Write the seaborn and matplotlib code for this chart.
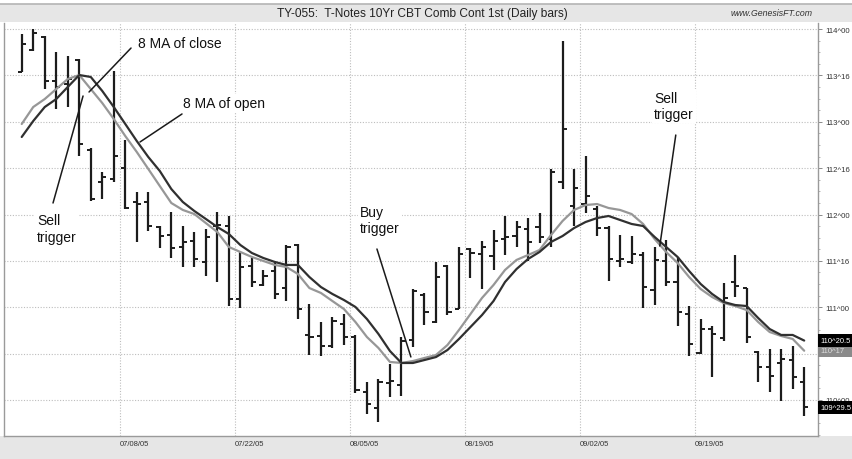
import numpy as np
import pandas as pd
import matplotlib
matplotlib.use("Agg")
import matplotlib.pyplot as plt
from matplotlib.patches import Rectangle
import seaborn as sns

# ---- data: TY daily bars, 8-bar moving averages of open and close ----
holidays = [pd.Timestamp("2005-07-04"), pd.Timestamp("2005-09-05")]
dates = [d for d in pd.bdate_range("2005-06-24", "2005-09-30") if d not in holidays]

opens = [113.536, 113.774, 113.914, 113.439, 113.407, 113.666, 112.695, 112.350, 112.383, 112.501,
         112.135, 112.135, 111.865, 111.779, 111.650, 111.714, 111.488, 111.876, 111.876, 111.089,
         111.445, 111.240, 111.391, 111.207, 111.671, 110.701, 110.690, 110.582, 110.819, 110.679,
         110.086, 109.913, 110.183, 110.162, 110.647, 111.132, 110.841, 111.445, 110.981, 111.628,
         111.574, 111.553, 111.736, 111.768, 111.844, 111.865, 111.736, 112.350, 112.092, 112.113,
         112.059, 111.854, 111.499, 111.488, 111.563, 111.186, 111.499, 111.272, 110.927, 110.507,
         110.765, 110.668, 111.272, 111.207, 110.517, 110.356, 110.399, 110.431, 110.194]
highs = [113.946, 114.000, 113.925, 113.752, 113.709, 113.677, 112.717, 112.458, 113.547, 112.803,
         112.243, 112.243, 111.876, 112.027, 111.876, 111.811, 111.844, 112.027, 111.984, 111.596,
         111.531, 111.402, 111.499, 111.671, 111.682, 111.035, 110.841, 110.895, 110.927, 110.701,
         110.194, 110.226, 110.388, 110.679, 111.197, 111.154, 111.488, 111.456, 111.650, 111.639,
         111.714, 111.833, 111.984, 111.930, 111.962, 112.016, 112.491, 113.871, 112.491, 112.631,
         112.092, 111.876, 111.779, 111.768, 111.596, 111.650, 111.725, 111.542, 111.013, 110.873,
         110.798, 111.261, 111.563, 111.207, 110.528, 110.550, 110.550, 110.582, 110.356]
lows = [113.536, 113.763, 113.353, 113.137, 113.159, 112.631, 112.145, 112.167, 112.350, 112.059,
        111.704, 111.822, 111.639, 111.531, 111.434, 111.434, 111.337, 111.272, 111.013, 110.992,
        111.218, 111.229, 111.089, 111.067, 110.873, 110.485, 110.474, 110.561, 110.593, 110.075,
        109.849, 109.763, 110.032, 110.043, 110.571, 110.809, 110.830, 110.916, 110.981, 111.315,
        111.197, 111.402, 111.563, 111.650, 111.499, 111.693, 111.650, 112.275, 111.876, 112.016,
        111.768, 111.283, 111.434, 111.466, 110.992, 111.024, 111.229, 110.798, 110.474, 110.496,
        110.248, 110.636, 111.110, 110.615, 110.194, 110.086, 109.989, 110.119, 109.827]
closes = [113.838, 113.957, 113.439, 113.375, 113.461, 112.760, 112.167, 112.404, 112.631, 112.070,
          112.113, 111.876, 111.768, 111.639, 111.704, 111.520, 111.758, 111.887, 111.089, 111.434,
          111.272, 111.337, 111.143, 111.650, 110.981, 110.679, 110.582, 110.852, 110.679, 110.108,
          109.957, 110.194, 110.205, 110.636, 111.175, 110.949, 111.326, 110.949, 111.574, 111.585,
          111.650, 111.714, 111.758, 111.865, 111.704, 111.758, 112.458, 112.922, 112.286, 112.199,
          111.854, 111.520, 111.520, 111.574, 111.218, 111.510, 111.272, 110.949, 110.604, 110.765,
          110.712, 111.100, 111.229, 110.679, 110.356, 110.259, 110.442, 110.248, 109.921875]
ma_open = [112.836, 113.008, 113.159, 113.245, 113.375, 113.504, 113.483, 113.332, 113.159, 112.976,
           112.792, 112.620, 112.469, 112.275, 112.135, 112.038, 111.952, 111.865, 111.790, 111.671,
           111.585, 111.531, 111.488, 111.456, 111.456, 111.326, 111.218, 111.143, 111.078, 111.003,
           110.873, 110.712, 110.528, 110.399, 110.399, 110.431, 110.463, 110.539, 110.658, 110.787,
           110.916, 111.067, 111.272, 111.412, 111.520, 111.596, 111.704, 111.768, 111.854, 111.919,
           111.962, 111.984, 111.941, 111.898, 111.876, 111.758, 111.650, 111.542, 111.391, 111.251,
           111.143, 111.057, 111.024, 111.013, 110.884, 110.765, 110.701, 110.701, 110.640625]
ma_close = [112.976, 113.159, 113.245, 113.353, 113.461, 113.504, 113.353, 113.202, 113.030, 112.846,
            112.674, 112.491, 112.307, 112.124, 112.049, 112.005, 111.908, 111.811, 111.650, 111.596,
            111.542, 111.499, 111.456, 111.434, 111.359, 111.207, 111.154, 111.067, 110.981, 110.841,
            110.679, 110.561, 110.410, 110.399, 110.420, 110.453, 110.485, 110.593, 110.755, 110.927,
            111.100, 111.240, 111.402, 111.510, 111.563, 111.617, 111.779, 111.930, 112.049, 112.102,
            112.113, 112.070, 112.049, 112.005, 111.898, 111.736, 111.596, 111.477, 111.326, 111.197,
            111.110, 111.046, 111.013, 110.970, 110.841, 110.733, 110.690, 110.658, 110.53125]
date_ticks = ["2005-07-08", "2005-07-22", "2005-08-05", "2005-08-19", "2005-09-02", "2005-09-19"]
price_ticks = [110.0, 110.5, 111.0, 111.5, 112.0, 112.5, 113.0, 113.5, 114.0]
# scale levels hidden behind the last-value flags
covered_ticks = [110.5]

title = "TY-055:  T-Notes 10Yr CBT Comb Cont 1st (Daily bars)"
source = "www.GenesisFT.com"


def fmt32(v, exact=False):
    whole = int(np.floor(v + 1e-9))
    frac = (v - whole) * 32
    if exact:
        s = f"{frac:.1f}".rstrip("0").rstrip(".")
        if "." not in s:
            s = f"{int(round(frac)):02d}"
        return f"{whole}^{s}"
    return f"{whole}^{int(round(frac)):02d}"


sns.set_style("white")
plt.rcParams["font.family"] = ["Liberation Sans", "DejaVu Sans"]

W, H = 852, 460
fig = plt.figure(figsize=(W / 100, H / 100), dpi=100)
fig.patch.set_facecolor("white")

# title strip and bottom strip
fig.add_artist(Rectangle((0, (H - 23) / H), 1, 18 / H, transform=fig.transFigure,
                         fc="#e6e6e6", ec="none", zorder=0))
fig.add_artist(plt.Line2D([0, 1], [(H - 5) / H] * 2, transform=fig.transFigure,
                          color="#b4b4b4", lw=1.2, zorder=1))
fig.add_artist(Rectangle((0, 0), 1, (H - 437) / H, transform=fig.transFigure,
                         fc="#e6e6e6", ec="none", zorder=0))

ax = fig.add_axes([4 / W, (H - 436.5) / H, (818 - 4) / W, (436.5 - 24) / H])
ax.set_facecolor("white")

idx = np.arange(len(opens))
bar_col = "#1c1c1c"
ax.vlines(idx, lows, highs, color=bar_col, lw=1.6, zorder=3)
ax.hlines(opens, idx - 0.36, idx, color=bar_col, lw=1.4, zorder=3)
ax.hlines(closes, idx, idx + 0.36, color=bar_col, lw=1.4, zorder=3)

df = pd.DataFrame({"bar": idx, "ma_open": ma_open, "ma_close": ma_close})
sns.lineplot(data=df, x="bar", y="ma_close", color="#979797", lw=1.6, ax=ax, zorder=4)
sns.lineplot(data=df, x="bar", y="ma_open", color="#303030", lw=1.6, ax=ax, zorder=4)
ax.set_xlabel("")
ax.set_ylabel("")

ax.set_xlim(-1.54, 69.2)
ax.set_ylim(109.617, 114.065)

# x ticks sit just left of the labelled session
date_index = {d.strftime("%Y-%m-%d"): i for i, d in enumerate(dates)}
xpos = [date_index[d] - 0.5 for d in date_ticks]
ax.set_xticks(xpos)
ax.set_xticklabels([pd.Timestamp(d).strftime("%m/%d/%y") for d in date_ticks],
                   ha="left", fontsize=5.5, color="#333333")
ax.tick_params(axis="x", length=0, pad=3)

ax.yaxis.tick_right()
ax.set_yticks(price_ticks)
ax.set_yticklabels(["" if v in covered_ticks else fmt32(v) for v in price_ticks],
                   fontsize=5.6, color="#333333")
ax.set_yticks(np.arange(109.625, 114.06, 0.125), minor=True)
ax.tick_params(axis="y", which="major", length=3, width=0.6, color="#777777", pad=2)
ax.tick_params(axis="y", which="minor", length=1.5, width=0.5, color="#999999")

ax.grid(True, which="major", linestyle=(0, (1, 1.5)), color="#bdbdbd", lw=0.8)
ax.set_axisbelow(True)
for side in ["left", "bottom", "right"]:
    ax.spines[side].set_color("#9a9a9a")
    ax.spines[side].set_linewidth(1.0)
ax.spines["top"].set_visible(False)

# last value flags on the price scale
ytrans = ax.get_yaxis_transform()


def flag(v, fc, tc, z):
    ax.add_patch(Rectangle((1.0, v - 0.07), 0.06, 0.14, transform=ytrans, fc=fc, ec="none",
                           clip_on=False, zorder=z))
    ax.text(1.003, v, fmt32(v, exact=True), transform=ytrans, ha="left", va="center",
            fontsize=5.5, color=tc, clip_on=False, zorder=z + 0.5)


flag(ma_close[-1], "#8a8a8a", "#dcdcdc", 7)
flag(ma_open[-1], "black", "white", 8)
flag(closes[-1], "black", "white", 8)

# annotations
line_kw = dict(arrowstyle="-", color="#1a1a1a", lw=1.1, shrinkA=0, shrinkB=0)
txt_kw = dict(fontsize=10, ha="left", va="center", color="#111111", zorder=6,
              linespacing=1.25, bbox=dict(fc="white", ec="none", pad=1.5))

ax.annotate("", xy=(5.85, 113.321), xytext=(9.50, 113.795), arrowprops=line_kw, zorder=5)
ax.text(10.10, 113.849, "8 MA of close", **txt_kw)

ax.annotate("", xy=(10.28, 112.782), xytext=(13.93, 113.084), arrowprops=line_kw, zorder=5)
ax.text(14.01, 113.202, "8 MA of open", **txt_kw)

ax.annotate("", xy=(5.33, 113.278), xytext=(2.72, 112.124), arrowprops=line_kw, zorder=5)
ax.text(1.33, 111.849, "Sell\ntrigger", **txt_kw)

ax.annotate("", xy=(33.82, 110.464), xytext=(30.87, 111.628), arrowprops=line_kw, zorder=5)
ax.text(29.39, 111.941, "Buy\ntrigger", **txt_kw)

ax.annotate("", xy=(55.45, 111.660), xytext=(56.84, 112.857), arrowprops=line_kw, zorder=5)
ax.text(54.94, 113.170, "Sell\ntrigger", **txt_kw)

fig.text(422 / W, 1 - 13.5 / H, title, ha="center", va="center", fontsize=8.6, color="#222222")
fig.text(772 / W, 1 - 13 / H, source, ha="center", va="center", fontsize=6.3,
         style="italic", color="#333333")

fig.savefig("out.png", dpi=100, facecolor=fig.get_facecolor())
